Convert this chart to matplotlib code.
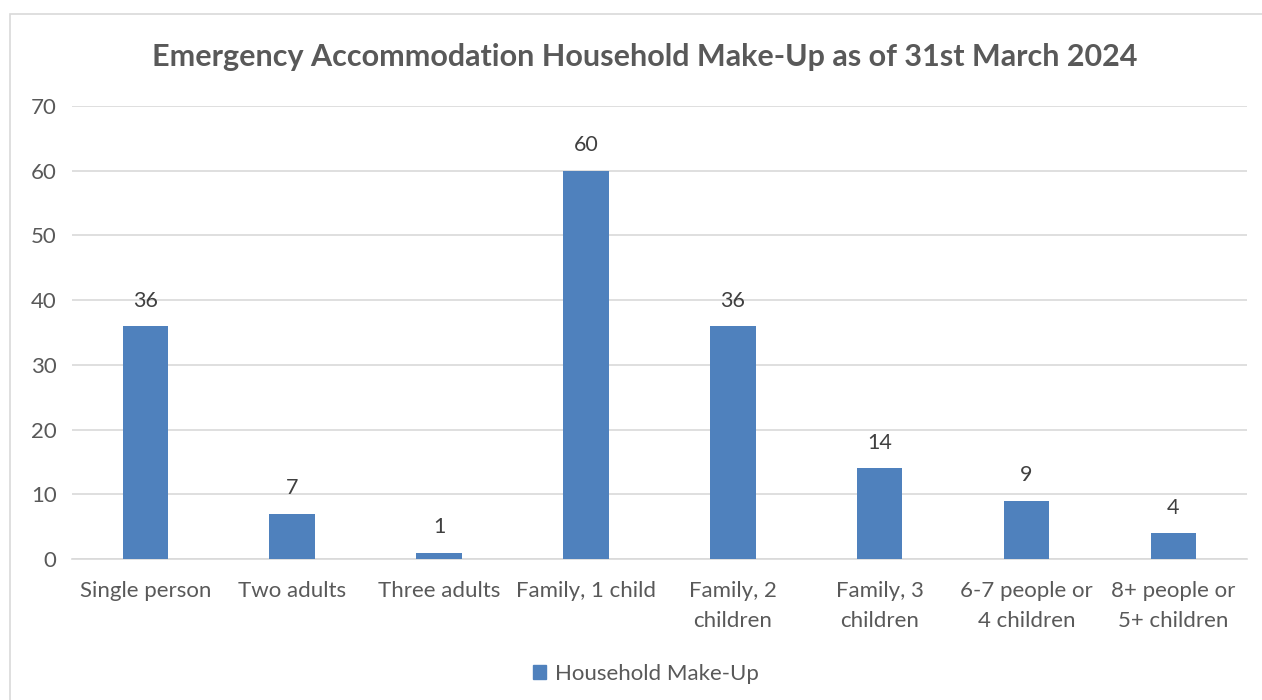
import numpy as np
import matplotlib.pyplot as plt
from matplotlib.patches import Rectangle, Patch

# Household make-up counts
categories = ["Single person", "Two adults", "Three adults", "Family, 1 child",
              "Family, 2\nchildren", "Family, 3\nchildren", "6-7 people or\n4 children",
              "8+ people or\n5+ children"]
counts = [36, 7, 1, 60, 36, 14, 9, 4]
yticks = [0, 10, 20, 30, 40, 50, 60, 70]

bar_col = '#4F81BD'
text_col = '#595959'
grid_col = '#D9D9D9'

plt.rcParams['font.family'] = ['Lato', 'DejaVu Sans']

fig = plt.figure(figsize=(12.62, 7), dpi=100)
ax = fig.add_axes([0.057, 0.2014, 0.931, 0.6472])

# chart border (left and top edges show)
fig.patches.append(Rectangle((9.5 / 1262, -0.1), 1.2, (700 - 13.5) / 700 + 0.1,
                             transform=fig.transFigure, fill=False,
                             edgecolor=grid_col, linewidth=1.2))

x = np.arange(len(categories))
bars = ax.bar(x, counts, width=0.31, color=bar_col, zorder=3)
for b, v in zip(bars, counts):
    ax.annotate(str(v), (b.get_x() + b.get_width() / 2, v), xytext=(0, 11),
                textcoords='offset points', ha='center', va='bottom',
                fontsize=15.5, color='#404040')

ax.set_xlim(-0.5, len(categories) - 0.5)
ax.set_ylim(0, 70)
ax.set_yticks(yticks)
ax.set_xticks(x)
ax.set_xticklabels(categories, fontsize=16, color=text_col, linespacing=1.62)
ax.tick_params(axis='y', labelsize=16, labelcolor=text_col, length=0, pad=11)
ax.tick_params(axis='x', length=0, pad=16)
ax.grid(axis='y', color=grid_col, linewidth=1.2, zorder=0)
for s in ['top', 'right', 'left']:
    ax.spines[s].set_visible(False)
ax.spines['bottom'].set_color(grid_col)
ax.spines['bottom'].set_linewidth(1.2)

fig.text(0.511, 0.918, "Emergency Accommodation Household Make-Up as of 31st March 2024",
         ha='center', va='center', fontsize=22, fontweight='bold', color=text_col)

fig.legend(handles=[Patch(color=bar_col, label='Household Make-Up')],
           loc='center', bbox_to_anchor=(0.512, 0.037), frameon=False,
           fontsize=16, handlelength=0.6, handleheight=0.6, handletextpad=0.4,
           labelcolor=text_col)

fig.savefig('out.png', dpi=100, facecolor='white')
